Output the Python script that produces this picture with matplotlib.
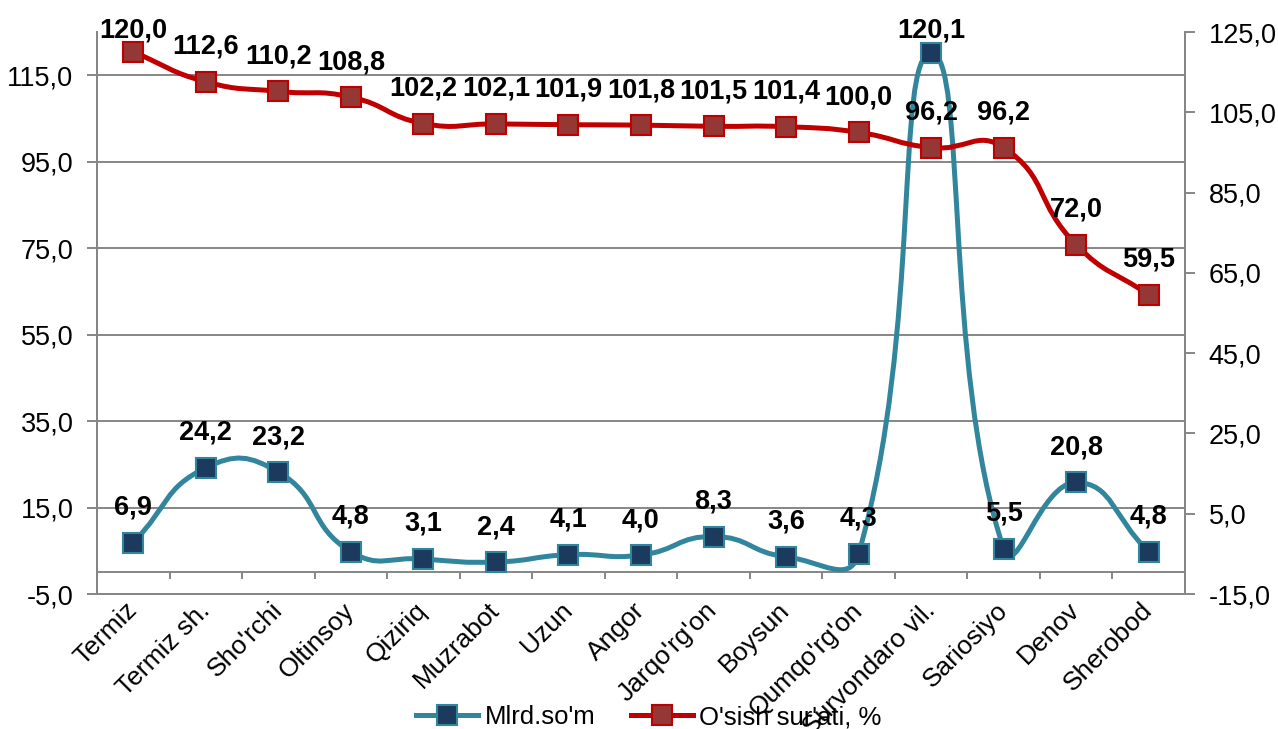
import numpy as np
import matplotlib
matplotlib.use("Agg")
import matplotlib.pyplot as plt
from matplotlib.path import Path
from matplotlib.patches import PathPatch
from matplotlib.lines import Line2D
from matplotlib.ticker import FuncFormatter

plt.rcParams['font.family'] = ['Liberation Sans', 'DejaVu Sans']

# Data
districts = ["Termiz", "Termiz sh.", "Sho'rchi", "Oltinsoy", "Qiziriq",
             "Muzrabot", "Uzun", "Angor", "Jarqo'rg'on", "Boysun",
             "Qumqo'rg'on", "Survondaro vil.", "Sariosiyo", "Denov",
             "Sherobod"]
mlrd_som = [6.9, 24.2, 23.2, 4.8, 3.1, 2.4, 4.1, 4.0, 8.3, 3.6, 4.3,
            120.1, 5.5, 20.8, 4.8]
growth = [120.0, 112.6, 110.2, 108.8, 102.2, 102.1, 101.9, 101.8, 101.5,
          101.4, 100.0, 96.2, 96.2, 72.0, 59.5]
series_names = ["Mlrd.so'm", "O'sish sur'ati, %"]

BLUE = '#31859C'
BLUE_FACE = '#1B3A5E'
RED = '#C00000'
RED_FACE = '#953735'
GRID = '#868686'


def comma(v, _pos=None):
    return "{:.1f}".format(v).replace('.', ',')


def smooth_curve(ax, xs, ys, color, k=0.5):
    # Excel-like smoothed line, control points worked out in pixel space
    pts = ax.transData.transform(np.column_stack([xs, ys]))
    n = len(pts)
    verts = [pts[0]]
    codes = [Path.MOVETO]
    for i in range(n - 1):
        p0 = pts[i - 1] if i > 0 else pts[i]
        p1 = pts[i]
        p2 = pts[i + 1]
        p3 = pts[i + 2] if i + 2 < n else pts[i + 1]
        d01 = np.hypot(*(p1 - p0))
        d12 = np.hypot(*(p2 - p1))
        d23 = np.hypot(*(p3 - p2))
        c1 = p1 + (p2 - p0) * d12 / (d01 + d12) * k
        c2 = p2 - (p3 - p1) * d12 / (d12 + d23) * k
        verts += [c1, c2, p2]
        codes += [Path.CURVE4] * 3
    verts = ax.transData.inverted().transform(np.array(verts))
    patch = PathPatch(Path(verts, codes), facecolor='none', edgecolor=color,
                      lw=3.6, capstyle='round', joinstyle='round', zorder=3)
    ax.add_patch(patch)


def data_labels(ax, xs, ys):
    # labels sit above the points, pushed down near the top edge
    for x, y in zip(xs, ys):
        disp = ax.transData.transform((x, y))
        off = min(35, 698 - disp[1])
        ax.annotate(comma(y), (x, y), xytext=(0, off),
                    textcoords='offset pixels', ha='center', va='center',
                    fontsize=19.5, fontweight='bold', zorder=6)


fig = plt.figure(figsize=(12.78, 7.29), dpi=100)
fig.subplots_adjust(left=97 / 1278, right=1185 / 1278,
                    top=1 - 32 / 729, bottom=1 - 594 / 729)
ax = fig.add_subplot(111)
ax2 = ax.twinx()

x = np.arange(len(districts))
ax.set_xlim(-0.5, len(districts) - 0.5)
ax.set_ylim(-5, 125)
ax2.set_ylim(-15, 125)

ax.set_yticks(np.arange(-5, 116, 20))
ax2.set_yticks(np.arange(-15, 126, 20))
ax.yaxis.set_major_formatter(FuncFormatter(comma))
ax2.yaxis.set_major_formatter(FuncFormatter(comma))
ax.yaxis.grid(True, color=GRID, lw=1.4)
ax.set_axisbelow(True)

for a in (ax, ax2):
    a.spines['top'].set_visible(False)
    for side in ('left', 'right', 'bottom'):
        a.spines[side].set_color(GRID)
        a.spines[side].set_linewidth(1.4)
    a.tick_params(axis='y', colors=GRID, labelcolor='black', labelsize=19.5,
                  length=7, width=1.4, pad=10)

ax.set_xticks(x)
ax.set_xticklabels(districts, rotation=45, ha='right', va='center',
                   rotation_mode='anchor', fontsize=19)
ax.tick_params(axis='x', length=0, pad=9)

# category axis crossing at zero with ticks between categories
ax.axhline(0, color=GRID, lw=1.4, zorder=1)
ax.vlines(np.arange(0.5, len(districts) - 1, 1), -1.6, 0, color=GRID,
          lw=1.4, zorder=1)

smooth_curve(ax, x, mlrd_som, BLUE)
ax.plot(x, mlrd_som, ls='none', marker='s', ms=14, mfc=BLUE_FACE,
        mec=BLUE, mew=1.5, zorder=4)
smooth_curve(ax2, x, growth, RED)
ax2.plot(x, growth, ls='none', marker='s', ms=14, mfc=RED_FACE,
         mec=RED, mew=1.5, zorder=4)

data_labels(ax, x, mlrd_som)
data_labels(ax2, x, growth)

handles = [Line2D([], [], color=BLUE, lw=3.6, marker='s', ms=14,
                  mfc=BLUE_FACE, mec=BLUE, mew=1.5),
           Line2D([], [], color=RED, lw=3.6, marker='s', ms=14,
                  mfc=RED_FACE, mec=RED, mew=1.5)]
fig.legend(handles, series_names, loc='center', ncol=2, frameon=False,
           bbox_to_anchor=(649 / 1278, 12 / 729), fontsize=18.5,
           handlelength=2.4, handletextpad=0.25, columnspacing=1.4)

fig.savefig('out.png', dpi=100)
